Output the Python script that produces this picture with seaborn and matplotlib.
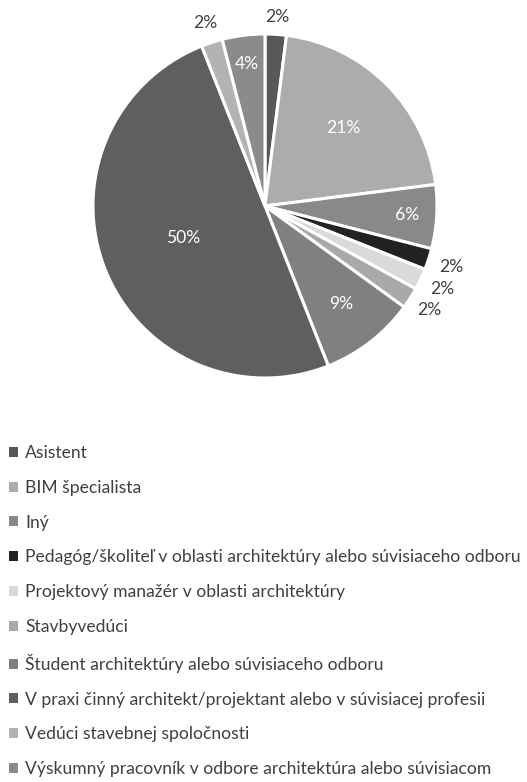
import matplotlib
matplotlib.use("Agg")
import matplotlib.pyplot as plt
from matplotlib.patches import Patch
import numpy as np
import seaborn as sns

# Respondent roles and their shares (percent)
categories = [
    "Asistent",
    "BIM špecialista",
    "Iný",
    "Pedagóg/školiteľ v oblasti architektúry alebo súvisiaceho odboru",
    "Projektový manažér v oblasti architektúry",
    "Stavbyvedúci",
    "Študent architektúry alebo súvisiaceho odboru",
    "V praxi činný architekt/projektant alebo v súvisiacej profesii",
    "Vedúci stavebnej spoločnosti",
    "Výskumný pracovník v odbore architektúra alebo súvisiacom",
]
shares = [2, 21, 6, 2, 2, 2, 9, 50, 2, 4]
value_labels = ["2%", "21%", "6%", "2%", "2%", "2%", "9%", "50%", "2%", "4%"]

# Styling
slice_colors = ["#585858", "#acacac", "#898989", "#222222", "#dadada",
                "#a9a9a9", "#808080", "#5f5f5f", "#b3b3b3", "#8b8b8b"]
label_radius = [1.10, 0.64, 0.83, 1.14, 1.14, 1.13, 0.72, 0.51, 1.12, 0.83]

sns.set_theme(style="white")
plt.rcParams["font.family"] = ["Lato", "DejaVu Sans"]

W, H = 527, 782
fig = plt.figure(figsize=(W / 100, H / 100), dpi=100)
fig.patch.set_facecolor("white")

cx, cy, r = 265, 206, 172
ax = fig.add_axes([(cx - r) / W, 1 - (cy + r) / H, 2 * r / W, 2 * r / H])
wedges, _ = ax.pie(
    shares,
    colors=slice_colors,
    startangle=90,
    counterclock=False,
    wedgeprops=dict(edgecolor="white", linewidth=2.2),
)
ax.set_xlim(-1, 1)
ax.set_ylim(-1, 1)
ax.set_aspect("equal")
ax.axis("off")

for w, txt, rad in zip(wedges, value_labels, label_radius):
    mid = np.deg2rad((w.theta1 + w.theta2) / 2)
    x, y = rad * np.cos(mid), rad * np.sin(mid)
    color = "white" if rad < 1 else "#404040"
    ax.text(x, y, txt, ha="center", va="center", fontsize=12.6, color=color,
            clip_on=False)

handles = [Patch(facecolor=c, edgecolor="none") for c in slice_colors]
fig.legend(
    handles, categories,
    loc="upper left",
    bbox_to_anchor=(9 / W, 1 - 445 / H),
    frameon=False,
    fontsize=12.6,
    handlelength=0.5,
    handleheight=0.5,
    handletextpad=0.42,
    labelspacing=1.075,
    borderpad=0,
    borderaxespad=0,
    labelcolor="#404040",
)

fig.savefig("out.png", dpi=100, facecolor="white")
